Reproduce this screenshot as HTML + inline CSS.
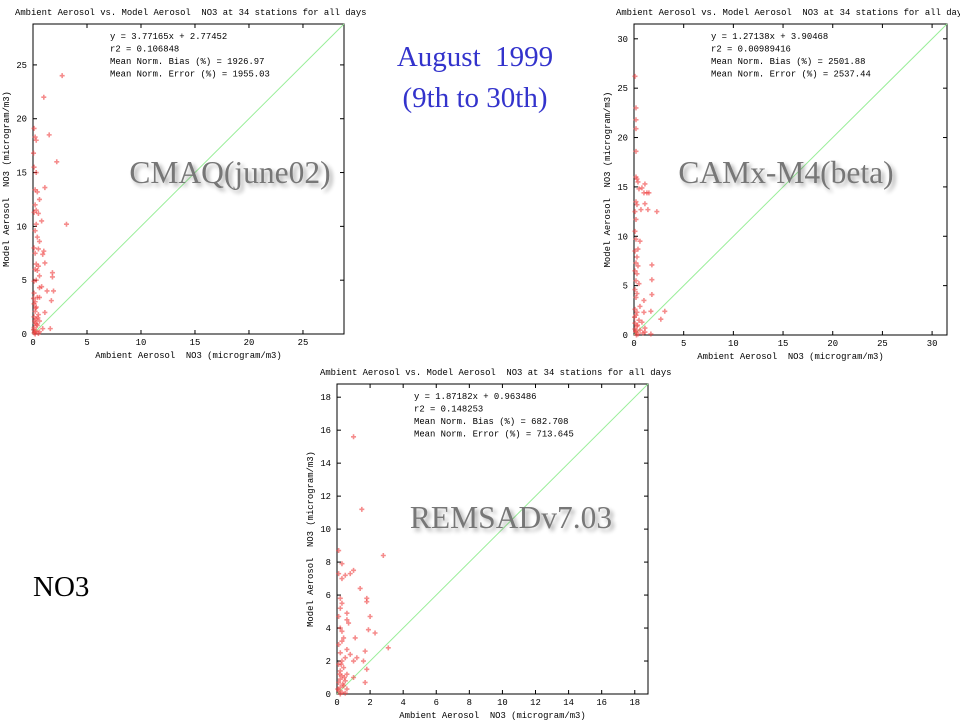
<!DOCTYPE html>
<html><head><meta charset="utf-8">
<style>
html,body{margin:0;padding:0;background:#fff;}
body{width:960px;height:720px;overflow:hidden;position:relative;}
svg{position:absolute;left:0;top:0;}
</style></head>
<body>
<svg id="root" width="960" height="720" viewBox="0 0 960 720" xmlns="http://www.w3.org/2000/svg">
  <defs>
    <filter id="sh" x="-10%" y="-30%" width="130%" height="170%">
      <feGaussianBlur in="SourceAlpha" stdDeviation="2"/>
      <feOffset dx="3" dy="3" result="b"/>
      <feComponentTransfer><feFuncA type="linear" slope="0.35"/></feComponentTransfer>
      <feMerge><feMergeNode/><feMergeNode in="SourceGraphic"/></feMerge>
    </filter>
  </defs>
  <text x="475" y="66" text-anchor="middle" font-family="Liberation Serif, serif" font-size="29" fill="#3333cc">August&#160; 1999</text>
  <text x="475" y="107" text-anchor="middle" font-family="Liberation Serif, serif" font-size="29" fill="#3333cc">(9th to 30th)</text>
  <text x="33" y="596" font-family="Liberation Serif, serif" font-size="29" fill="#000">NO3</text>
</svg>
<script>
// Chart 1: CMAQ
const cmaqX = [2.7,1.0,1.5,2.2,3.1,1.1,0.1,0.2,0.3,0.05,0.1,0.3,0.2,0.4,0.6,0.2,0.3,0.5,0.1,0.8,0.3,0.2,0.4,0.6,0.1,0.5,1.0,0.9,0.2,1.1,0.3,0.5,0.2,0.4,1.8,1.8,0.6,0.3,0.1,0.8,0.6,1.3,1.9,0.1,0.4,0.6,1.7,0.2,0.1,0.3,1.1,0.2,0.5,0.1,0.3,0.6,0.2,0.4,0.1,0.9,1.6,0.3,0.6,0.1,0.2,0.5,0.05,0.15,0.25,0.05,0.35,0.45,0.15];
const cmaqY = [24,22,18.5,16,10.2,13.6,19.1,18.3,18,16.8,15.5,15,13.4,13.2,12.5,12,11.5,11.2,11.3,10.5,10.2,9.6,9,8.6,8,7.9,7.7,7.4,7.5,6.6,6.5,6.3,6,5.9,5.7,5.3,5.4,5,4.9,4.4,4.3,4,4,3.8,3.4,3.4,3.1,3,2.8,2.5,2,2.1,1.8,1.6,1.4,1.2,1,0.8,0.6,0.5,0.5,0.3,0.2,0.1,0,0.05,0.4,1.2,2.4,3.3,0.9,1.5,0.2];
// Chart 2: CAMx
const camxX = [0.1,0.2,0.2,0.2,0.2,0.2,0.3,0.4,0.8,1.1,1.3,1.0,1.5,0.5,0.2,1.1,0.3,0.1,0.7,1.4,2.3,0.2,0.1,0.6,0.2,0.4,0.1,0.3,1.8,0.2,0.4,0.1,0.3,1.8,0.2,0.5,0.1,0.3,1.8,0.2,1.0,0.6,0.1,0.3,1.0,1.7,3.1,0.2,2.7,0.5,0.1,0.8,0.3,1.1,0.6,1.1,0.2,1.7,0.4,0.1,0.9,0.05,0.15,0.35,0.25];
const camxY = [26.2,23,21.8,20.9,18.6,16,15.8,15.5,14.9,15.3,14.4,14.4,14.4,14.8,13.5,13.3,13.2,12.5,12.7,12.7,12.5,11.7,10.5,9.5,9.7,8.7,8.5,7.9,7.1,7.3,7,6.5,6.2,5.6,5.5,5.2,4.6,4.2,4.1,3.8,3.5,2.9,2.6,2.3,2.3,2.4,2.4,2,1.6,1.5,1.2,1.3,0.9,0.7,0.5,0.3,0.3,0.1,0.1,0.6,0.2,1.8,0.4,1.0,0.0];
// Chart 3: REMSAD
const remX = [1.0,1.5,0.1,2.8,0.3,1.0,0.1,0.8,0.5,0.3,1.4,1.8,1.8,0.2,0.3,0.2,2.0,0.6,0.1,0.6,0.7,0.2,0.3,1.9,2.3,1.1,0.4,0.3,0.1,3.1,0.6,0.2,0.8,1.7,0.5,1.2,0.3,1.0,1.6,0.1,0.4,0.2,1.8,0.6,0.3,1.0,0.2,0.5,0.1,1.7,0.4,0.2,0.6,0.1,0.3,0.2,0.5,0.15,0.35,0.25,0.45,0.05];
const remY = [15.6,11.2,8.7,8.4,7.9,7.5,7.3,7.3,7.2,7,6.4,5.8,5.6,5.8,5.5,5.2,4.7,4.9,4.7,4.5,4.3,4,3.8,3.9,3.7,3.4,3.4,3.2,3.0,2.8,2.7,2.5,2.4,2.6,2.2,2.2,2,2,2,1.8,1.6,1.4,1.5,1.2,1.1,1.0,0.9,0.8,0.7,0.7,0.5,0.4,0.3,0.2,0.1,0,0.05,1.2,0.6,1.8,1.0,0.3];
const xTicks1=[0,5,10,15,20,25], xTicks2=[0,5,10,15,20,25,30], xTicks3=[0,2,4,6,8,10,12,14,16,18];
const stats1=["y = 3.77165x + 2.77452","r2 = 0.106848","Mean Norm. Bias (%) = 1926.97","Mean Norm. Error (%) = 1955.03"];
const stats2=["y = 1.27138x + 3.90468","r2 = 0.00989416","Mean Norm. Bias (%) = 2501.88","Mean Norm. Error (%) = 2537.44"];
const stats3=["y = 1.87182x + 0.963486","r2 = 0.148253","Mean Norm. Bias (%) = 682.708","Mean Norm. Error (%) = 713.645"];

const NS="http://www.w3.org/2000/svg";
const root=document.getElementById('root');
function mk(tag,attrs,parent){const e=document.createElementNS(NS,tag);for(const k in attrs)e.setAttribute(k,attrs[k]);(parent||root).appendChild(e);return e;}
const MONO="Liberation Mono, DejaVu Sans Mono, monospace";
const FS=8.9;

function chart(id,box,max,ticks,xs,ys,stats,model,modelPos,titlePos){
  const g=mk('g',{});
  
  
  const [x0,y0,x1,y1]=box;
  const sx=v=>x0+v/max*(x1-x0);
  const sy=v=>y1-v/max*(y1-y0);
  const t=mk('text',{x:titlePos[0],y:titlePos[1],'font-family':MONO,'font-size':FS,fill:'#000'},g);
  t.textContent="Ambient Aerosol vs. Model Aerosol\u00a0 NO3 at 34 stations for all days";
  
  
  const fr=mk('rect',{x:x0,y:y0,width:x1-x0,height:y1-y0,fill:'none',stroke:'#000','stroke-width':1},g);
  
  
  ticks.forEach(v=>{
    mk('line',{x1:sx(v),x2:sx(v),y1:y1,y2:y1-4,stroke:'#000'},g);
    mk('line',{x1:sx(v),x2:sx(v),y1:y0,y2:y0+4,stroke:'#000'},g);
    mk('line',{x1:x0,x2:x0+4,y1:sy(v),y2:sy(v),stroke:'#000'},g);
    mk('line',{x1:x1,x2:x1-4,y1:sy(v),y2:sy(v),stroke:'#000'},g);
    const tx=mk('text',{x:sx(v),y:y1+11,'text-anchor':'middle','font-family':MONO,'font-size':FS},g);
    tx.textContent=v;
    
    
    const ty=mk('text',{x:x0-6,y:sy(v)+3,'text-anchor':'end','font-family':MONO,'font-size':FS},g);
    ty.textContent=v;
    
    
  });
  const xl=mk('text',{x:(x0+x1)/2,y:y1+24,'text-anchor':'middle','font-family':MONO,'font-size':FS},g);
  xl.textContent="Ambient Aerosol\u00a0 NO3 (microgram/m3)";
  
  
  const yx=x0-24, yy=(y0+y1)/2;
  const yl=mk('text',{x:yx,y:yy,'text-anchor':'middle','font-family':MONO,'font-size':FS,transform:`rotate(-90 ${yx} ${yy})`},g);
  yl.textContent="Model Aerosol\u00a0 NO3 (microgram/m3)";
  
  
  const ln=mk('line',{x1:sx(0),y1:sy(0),x2:sx(max),y2:sy(max),stroke:'#99ee99','stroke-width':1},g);
  
  
  xs.forEach((xv,i)=>{
    const px=sx(xv), py=sy(ys[i]);
    const p=mk('path',{d:`M${px-2.5},${py}L${px+2.5},${py}M${px},${py-2.5}L${px},${py+2.5}`,stroke:'#f04040','stroke-width':1.6,opacity:0.6},g);
    
    
  });
  stats.forEach((s,i)=>{
    const st=mk('text',{x:x0+77,y:y0+15+i*12.5,'font-family':MONO,'font-size':FS},g);
    st.textContent=s;
    
    
  });
  const m=mk('text',{x:modelPos[0],y:modelPos[1],'text-anchor':'middle','font-family':'Liberation Serif, serif','font-size':31.5,fill:'#777',filter:'url(#sh)'},g);
  m.textContent=model;
  
  
}
chart('cmaq',[33,24,344,334],28.8,xTicks1,cmaqX,cmaqY,stats1,'CMAQ(june02)',[230,183],[15,15]);
chart('camx',[634,24,947,335],31.5,xTicks2,camxX,camxY,stats2,'CAMx-M4(beta)',[786,183],[616,15]);
chart('remsad',[337,384,648,694],18.8,xTicks3,remX,remY,stats3,'REMSADv7.03',[511,528],[320,375]);
</script>
</body></html>
